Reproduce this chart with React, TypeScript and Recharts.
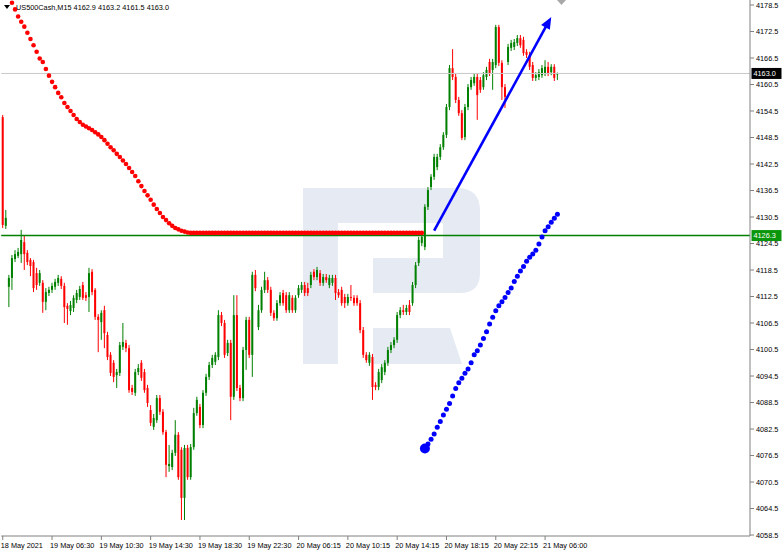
import React from 'react';
import { ComposedChart, Bar, Line, XAxis, YAxis, ReferenceLine } from 'recharts';

const opens = [
4153.1, 4128.5, 4114.7, 4116.7, 4121.0, 4121.7, 4122.1, 4124.8, 4122.4, 4120.8,
4120.3, 4117.8, 4115.6, 4115.6, 4111.3, 4113.3, 4114.0, 4114.7, 4115.6, 4116.5,
4114.9, 4110.4, 4109.2, 4109.9, 4111.7, 4112.4, 4115.1, 4112.8, 4112.4, 4118.1,
4114.0, 4107.9, 4106.7, 4109.4, 4103.8, 4099.3, 4097.5, 4094.7, 4095.2, 4101.1,
4102.0, 4100.8, 4091.8, 4090.7, 4095.4, 4097.5, 4095.4, 4091.8, 4086.8, 4083.0,
4084.5, 4089.5, 4086.4, 4081.8, 4074.1, 4073.9, 4077.1, 4081.2, 4077.8, 4066.9,
4078.2, 4071.6, 4078.4, 4086.1, 4087.5, 4083.4, 4090.7, 4094.3, 4097.0, 4097.7,
4098.8, 4108.3, 4106.5, 4099.7, 4102.0, 4089.8, 4108.3, 4091.8, 4089.5, 4100.4,
4107.2, 4099.3, 4117.4, 4105.6, 4109.4, 4114.0, 4116.2, 4114.0, 4108.8, 4107.6,
4111.0, 4113.3, 4112.8, 4109.4, 4112.2, 4109.4, 4112.8, 4114.0, 4115.1, 4114.4,
4115.1, 4118.1, 4116.9, 4117.8, 4115.6, 4116.9, 4115.1, 4115.6, 4116.7, 4113.5,
4114.0, 4112.4, 4111.0, 4112.4, 4112.2, 4112.2, 4111.0, 4104.9, 4099.3, 4097.5,
4098.8, 4092.5, 4092.0, 4093.6, 4095.4, 4097.5, 4100.4, 4101.5, 4102.7, 4108.3,
4109.4, 4109.0, 4110.6, 4111.0, 4115.1, 4120.1, 4124.6, 4123.7, 4132.8, 4137.3,
4139.6, 4141.8, 4144.1, 4146.3, 4149.1, 4155.4, 4164.2, 4162.2, 4157.0, 4154.0,
4148.6, 4155.4, 4159.9, 4160.8, 4162.2, 4161.5, 4159.9, 4162.2, 4165.6, 4163.8,
4164.9, 4173.5, 4165.4, 4159.9, 4165.6, 4168.8, 4169.0, 4169.9, 4171.0, 4170.6,
4167.9, 4167.2, 4164.9, 4162.0, 4162.2, 4162.6, 4163.1, 4164.5, 4163.3, 4164.5,
4162.9,
];

const highs = [
4153.6, 4132.1, 4117.4, 4121.9, 4123.0, 4123.5, 4127.6, 4126.2, 4123.0, 4121.2,
4120.8, 4119.0, 4118.5, 4116.2, 4114.4, 4114.7, 4115.6, 4116.5, 4117.4, 4117.1,
4115.6, 4111.0, 4111.5, 4112.8, 4114.0, 4114.9, 4115.8, 4113.5, 4119.0, 4118.7,
4114.4, 4108.5, 4109.4, 4110.4, 4104.5, 4099.9, 4098.1, 4096.1, 4102.2, 4106.5,
4102.7, 4101.5, 4092.5, 4096.1, 4097.2, 4098.1, 4096.1, 4092.5, 4087.9, 4085.9,
4090.2, 4090.2, 4087.0, 4082.3, 4078.9, 4077.8, 4084.5, 4081.8, 4078.4, 4078.9,
4078.9, 4079.1, 4087.3, 4089.8, 4088.2, 4091.3, 4095.0, 4097.7, 4099.3, 4099.9,
4109.4, 4109.0, 4107.2, 4102.7, 4102.7, 4112.8, 4112.8, 4092.5, 4101.1, 4107.9,
4107.9, 4118.1, 4118.5, 4110.6, 4114.7, 4118.1, 4116.9, 4114.7, 4109.4, 4111.7,
4113.5, 4114.0, 4113.5, 4113.5, 4112.8, 4112.8, 4115.1, 4115.8, 4115.8, 4115.6,
4118.1, 4118.7, 4119.2, 4118.5, 4117.6, 4117.6, 4117.4, 4117.4, 4117.4, 4114.2,
4114.7, 4113.1, 4113.1, 4115.1, 4112.8, 4112.8, 4111.7, 4105.6, 4099.9, 4099.9,
4099.5, 4093.1, 4096.1, 4097.2, 4098.1, 4101.1, 4102.2, 4103.3, 4109.0, 4110.1,
4110.6, 4110.6, 4111.7, 4115.8, 4120.3, 4126.0, 4126.7, 4133.4, 4137.3, 4140.2,
4144.8, 4144.8, 4147.0, 4149.7, 4156.1, 4164.9, 4168.5, 4162.9, 4157.7, 4154.7,
4156.1, 4160.6, 4162.2, 4162.9, 4162.9, 4162.2, 4163.3, 4164.5, 4166.3, 4166.3,
4174.0, 4174.0, 4166.0, 4160.6, 4169.7, 4170.6, 4170.8, 4171.7, 4171.7, 4171.3,
4168.5, 4167.9, 4165.6, 4163.3, 4164.0, 4164.9, 4166.0, 4165.6, 4165.1, 4165.1,
4163.2,
];

const lows = [
4128.0, 4127.8, 4110.1, 4114.0, 4120.3, 4121.2, 4120.1, 4118.5, 4119.6, 4117.1,
4113.5, 4114.0, 4114.9, 4108.8, 4109.4, 4112.6, 4113.3, 4114.0, 4114.9, 4114.2,
4106.5, 4106.1, 4108.3, 4109.0, 4111.0, 4111.7, 4111.7, 4111.5, 4109.0, 4112.8,
4107.2, 4099.9, 4102.7, 4100.8, 4098.1, 4094.5, 4093.1, 4091.8, 4094.5, 4100.4,
4099.9, 4090.7, 4090.2, 4090.0, 4094.7, 4093.4, 4090.7, 4087.5, 4083.2, 4082.3,
4083.9, 4085.7, 4081.2, 4071.6, 4072.8, 4073.2, 4076.4, 4071.0, 4061.9, 4061.9,
4071.0, 4071.0, 4077.8, 4085.5, 4082.7, 4082.7, 4090.0, 4093.6, 4096.3, 4097.0,
4098.1, 4105.8, 4098.6, 4099.0, 4084.5, 4089.1, 4091.1, 4088.8, 4088.8, 4095.9,
4098.6, 4094.3, 4113.7, 4104.9, 4108.8, 4113.3, 4113.3, 4108.1, 4107.0, 4107.0,
4110.4, 4110.4, 4108.8, 4108.8, 4108.8, 4108.8, 4112.2, 4113.3, 4112.6, 4112.6,
4114.4, 4116.2, 4116.2, 4114.9, 4114.9, 4115.6, 4114.4, 4114.9, 4111.7, 4112.2,
4110.4, 4109.9, 4110.4, 4111.5, 4110.4, 4110.4, 4104.2, 4098.6, 4097.5, 4096.8,
4089.1, 4091.3, 4091.3, 4092.9, 4094.7, 4096.8, 4099.7, 4100.8, 4102.0, 4107.6,
4108.3, 4108.3, 4108.3, 4110.4, 4114.4, 4119.4, 4123.9, 4123.0, 4132.1, 4136.6,
4138.9, 4141.1, 4143.4, 4145.7, 4148.4, 4154.7, 4161.5, 4156.3, 4153.4, 4147.9,
4147.9, 4154.7, 4159.3, 4160.2, 4152.5, 4158.6, 4159.3, 4161.5, 4162.4, 4159.3,
4164.2, 4164.7, 4157.0, 4155.2, 4164.9, 4168.1, 4168.3, 4169.2, 4168.8, 4167.0,
4166.5, 4163.8, 4161.3, 4161.3, 4161.5, 4162.0, 4162.4, 4162.4, 4162.6, 4161.3,
4161.5,
];

const closes = [
4128.7, 4130.3, 4116.7, 4121.2, 4122.1, 4122.6, 4125.3, 4122.1, 4120.3, 4119.4,
4114.4, 4115.1, 4117.8, 4111.3, 4113.5, 4114.0, 4114.9, 4115.8, 4116.7, 4114.9,
4110.1, 4109.7, 4110.6, 4112.2, 4113.3, 4114.2, 4112.2, 4112.2, 4117.8, 4113.5,
4107.9, 4107.2, 4108.8, 4104.2, 4098.8, 4095.2, 4094.3, 4095.4, 4101.5, 4102.2,
4100.8, 4091.3, 4090.9, 4095.4, 4096.3, 4094.1, 4091.3, 4088.4, 4083.9, 4085.0,
4089.5, 4086.4, 4081.8, 4074.4, 4074.6, 4077.1, 4081.2, 4071.6, 4066.9, 4078.2,
4071.6, 4078.4, 4086.1, 4089.1, 4083.4, 4090.7, 4094.3, 4097.0, 4098.6, 4099.3,
4108.3, 4106.5, 4099.3, 4102.0, 4089.8, 4108.3, 4091.8, 4089.5, 4100.4, 4107.2,
4099.3, 4117.4, 4114.4, 4109.4, 4114.0, 4116.2, 4114.0, 4108.8, 4107.6, 4111.0,
4112.8, 4111.0, 4109.4, 4112.8, 4109.4, 4112.2, 4114.4, 4115.1, 4113.3, 4113.3,
4117.4, 4116.9, 4118.5, 4115.6, 4116.9, 4116.2, 4116.7, 4116.7, 4113.3, 4112.8,
4111.0, 4111.0, 4112.4, 4112.2, 4111.0, 4111.0, 4104.9, 4099.3, 4098.1, 4099.3,
4092.0, 4092.0, 4095.4, 4096.5, 4097.5, 4100.4, 4101.5, 4102.7, 4108.3, 4109.4,
4109.0, 4109.9, 4109.0, 4115.1, 4119.6, 4125.3, 4126.0, 4132.8, 4136.6, 4139.6,
4144.1, 4144.1, 4146.3, 4149.1, 4155.4, 4164.2, 4162.2, 4157.0, 4154.0, 4148.4,
4155.4, 4159.9, 4161.5, 4162.2, 4158.1, 4159.3, 4162.6, 4163.8, 4163.1, 4165.6,
4173.5, 4165.4, 4159.9, 4157.7, 4169.0, 4169.9, 4170.1, 4171.0, 4169.4, 4167.6,
4167.2, 4164.5, 4162.0, 4162.6, 4163.3, 4164.2, 4164.5, 4163.1, 4164.5, 4162.0,
4163.0,
];

// red dotted indicator, first value at bar index 3, last at bar index 136
const redStart = 3;
const redDots = [
4179.0, 4177.5, 4175.9, 4174.7, 4173.6, 4172.2, 4170.8, 4169.4, 4167.9, 4166.4,
4165.6, 4164.0, 4162.5, 4161.1, 4159.9, 4158.6, 4157.6,
4156.3, 4155.4, 4154.5, 4153.6, 4152.7, 4152.0, 4151.4, 4151.0, 4150.6, 4150.2,
4149.7, 4149.2, 4148.6, 4147.9, 4147.1, 4146.3, 4145.6, 4144.8, 4144.1, 4143.3,
4142.5, 4141.6, 4140.7, 4139.8, 4138.6, 4137.5, 4136.4, 4135.4, 4134.4, 4133.3,
4132.3, 4131.4, 4130.5, 4129.8, 4129.1, 4128.5, 4128.0, 4127.7, 4127.4, 4127.2,
4127.0, 4126.9, 4126.9, 4126.9, 4126.9, 4126.9, 4126.9, 4126.9, 4126.9, 4126.9,
4126.9, 4126.9, 4126.9, 4126.9, 4126.9, 4126.9, 4126.9, 4126.9, 4126.9, 4126.9,
4126.9, 4126.9, 4126.9, 4126.9, 4126.9, 4126.9, 4126.9, 4126.9, 4126.9, 4126.9,
4126.9, 4126.9, 4126.9, 4126.9, 4126.9, 4126.9, 4126.9, 4126.9, 4126.9, 4126.9,
4126.9, 4126.9, 4126.9, 4126.9, 4126.9, 4126.9, 4126.9, 4126.9, 4126.9, 4126.9,
4126.9, 4126.9, 4126.9, 4126.9, 4126.9, 4126.9, 4126.9, 4126.9, 4126.9, 4126.9,
4126.9, 4126.9, 4126.9, 4126.9, 4126.9, 4126.9, 4126.9, 4126.9, 4126.9, 4126.9,
4126.9, 4126.9, 4126.9, 4126.9, 4126.9, 4126.9, 4126.9,
];

// blue dotted projection, first value at bar index 137
const blueStart = 137;
const blueDots = [
4078.1, 4079.1, 4080.2, 4081.4, 4082.9, 4084.2, 4085.7, 4087.0, 4088.3, 4090.0,
4091.7, 4093.0, 4094.0, 4095.1, 4096.1, 4097.5, 4099.3, 4100.2, 4101.5, 4103.0,
4104.5, 4106.3, 4107.8, 4109.3, 4110.4, 4111.3, 4112.3, 4113.4, 4114.4, 4115.9,
4117.1, 4118.3, 4119.3, 4120.5, 4121.4, 4122.1, 4123.0, 4124.4, 4126.0, 4127.4,
4128.3, 4129.3, 4130.2, 4131.1,
];

const xTickIndex = [0, 16, 32, 48, 64, 80, 96, 112, 128, 144, 160, 176];
const xTickLabels = [
  '18 May 2021', '19 May 06:30', '19 May 10:30', '19 May 14:30', '19 May 18:30', '19 May 22:30',
  '20 May 06:15', '20 May 10:15', '20 May 14:15', '20 May 18:15', '20 May 22:15', '21 May 06:00',
];
const yTicks = [
  4058.5, 4064.5, 4070.5, 4076.5, 4082.5, 4088.5, 4094.5, 4100.5, 4106.5, 4112.5, 4118.5,
  4124.5, 4130.5, 4136.5, 4142.5, 4148.5, 4154.5, 4160.5, 4166.5, 4172.5, 4178.5,
];
const yDomain = [4058.28, 4179.63];
const supportLevel = 4126.3;
const lastPrice = 4163.0;
const arrowFrom = { x: 140, y: 4127.4 };
const arrowTo = { x: 178, y: 4175.8 };
const titleText = 'US500Cash,M15  4162.9 4163.2 4161.5 4163.0';

const slotCount = 243;
const data = Array.from({ length: slotCount }, (_, i) => ({
  i,
  o: i < opens.length ? opens[i] : null,
  h: i < highs.length ? highs[i] : null,
  l: i < lows.length ? lows[i] : null,
  c: i < closes.length ? closes[i] : null,
  red: i >= redStart && i < redStart + redDots.length ? redDots[i - redStart] : null,
  blue: i >= blueStart && i < blueStart + blueDots.length ? blueDots[i - blueStart] : null,
}));

const FONT = '"Liberation Sans", Arial, sans-serif';
const GREEN = '#008000';
const RED = '#ff0000';
const AXIS = '#808080';

const Candle = (props: any) => {
  const { x, y, width, height, payload } = props;
  if (!payload || payload.o == null) return null;
  const { o, h, l, c } = payload;
  const range = h - l;
  const py = (v: number) => (range === 0 ? y : y + ((h - v) / range) * height);
  const cx = x + width / 2;
  const up = c >= o;
  const color = up ? GREEN : RED;
  const top = py(Math.max(o, c));
  const bot = py(Math.min(o, c));
  return (
    <g>
      <line x1={cx} x2={cx} y1={y} y2={y + height} stroke={color} strokeWidth={1} />
      <rect x={cx - 1} y={top} width={2} height={Math.max(bot - top, 1)} fill={color} />
    </g>
  );
};

const makeDot = (color: string, r: number, bigIndex: number) => (props: any) => {
  const { cx, cy, index, value } = props;
  if (value == null || cy == null || Number.isNaN(cy)) return <g key={`k${index}`} />;
  return <circle key={`k${index}`} cx={cx} cy={cy} r={index === bigIndex ? 5 : r} fill={color} />;
};
const redDot = makeDot(RED, 2.3, -1);
const blueDot = makeDot('#0000ff', 2.5, blueStart);

const YTick = (props: any) => {
  const { x, y, payload } = props;
  return (
    <text x={x} y={y} dy={2.6} fontSize={7.3} fontFamily={FONT} fill="#000" textAnchor="start">
      {Number(payload.value).toFixed(1)}
    </text>
  );
};

const XTick = (props: any) => {
  const { x, y, payload } = props;
  const k = xTickIndex.indexOf(payload.value);
  return (
    <text x={x - 2} y={y + 7.5} fontSize={7.3} fontFamily={FONT} fill="#000" textAnchor="start">
      {k >= 0 ? xTickLabels[k] : ''}
    </text>
  );
};

const priceBox = (text: string, bg: string) => (p: any) => {
  const vb = p.viewBox || {};
  const bx = vb.x + vb.width + 1.5;
  const by = vb.y;
  return (
    <g>
      <rect x={bx} y={by - 5.5} width={30} height={11} fill={bg} />
      <text x={bx + 2} y={by + 2.7} fontSize={7.3} fontFamily={FONT} fill="#fff">{text}</text>
    </g>
  );
};

const ArrowShape = (p: any) => {
  const { x1, y1, x2, y2 } = p;
  const dx = x2 - x1;
  const dy = y2 - y1;
  const len = Math.hypot(dx, dy) || 1;
  const ux = dx / len;
  const uy = dy / len;
  const hl = 12;
  const hw = 5;
  const bx = x2 - ux * hl;
  const by = y2 - uy * hl;
  return (
    <g>
      <line x1={x1} y1={y1} x2={bx + ux * 2} y2={by + uy * 2} stroke="#0000ff" strokeWidth={2.6} />
      <polygon
        points={`${x2},${y2} ${bx - uy * hw},${by + ux * hw} ${bx + uy * hw},${by - ux * hw}`}
        fill="#0000ff"
      />
    </g>
  );
};

const Watermark = () => (
  <svg width={782} height={553} style={{ position: 'absolute', left: 0, top: 0 }}>
    <g fill="#e6ebf3">
      <rect x={303} y={188} width={35} height={176} />
      <path d="M338,188 L457,188 Q480,188 480,211 L480,273 Q480,293 460,293 L373,293 L373,258 L443,258 L443,223 L338,223 Z" />
      <polygon points="373,328 450,328 462,364 373,364" />
    </g>
  </svg>
);

export default function App() {
  return (
    <div style={{ position: 'absolute', left: 0, top: 0, width: 782, height: 553, background: '#fff', overflow: 'hidden' }}>
      <Watermark />
      <div style={{ position: 'absolute', left: 0, top: 0 }}>
        <ComposedChart
          width={782}
          height={553}
          data={data}
          margin={{ top: 0, right: 0, bottom: 0, left: 1.2 }}
          barCategoryGap={0}
        >
          <XAxis
            dataKey="i"
            type="category"
            ticks={xTickIndex}
            interval={0}
            height={17}
            tickSize={4}
            tickMargin={0}
            tick={<XTick />}
            axisLine={{ stroke: AXIS }}
            tickLine={{ stroke: AXIS }}
          />
          <YAxis
            yAxisId="r"
            orientation="right"
            type="number"
            domain={yDomain}
            allowDataOverflow
            ticks={yTicks}
            interval={0}
            width={32}
            tickSize={4}
            tickMargin={2}
            tick={<YTick />}
            axisLine={{ stroke: AXIS }}
            tickLine={{ stroke: AXIS }}
          />
          <YAxis
            yAxisId="l"
            orientation="left"
            type="number"
            domain={yDomain}
            width={0}
            tick={false}
            tickLine={false}
            axisLine={{ stroke: AXIS }}
          />
          <ReferenceLine yAxisId="r" y={lastPrice} stroke="#c8c8c8" strokeWidth={1} label={priceBox('4163.0', '#000')} />
          <Bar
            yAxisId="r"
            dataKey={(d: any) => (d.o == null ? null : [d.l, d.h])}
            shape={<Candle />}
            isAnimationActive={false}
          />
          <Line
            yAxisId="r"
            dataKey="red"
            stroke="none"
            strokeWidth={0}
            dot={redDot}
            activeDot={false}
            isAnimationActive={false}
          />
          <ReferenceLine yAxisId="r" y={supportLevel} stroke={GREEN} strokeWidth={1.4} label={priceBox('4126.3', '#0a960a')} />
          <Line
            yAxisId="r"
            dataKey="blue"
            stroke="none"
            strokeWidth={0}
            dot={blueDot}
            activeDot={false}
            isAnimationActive={false}
          />
          <ReferenceLine
            yAxisId="r"
            segment={[arrowFrom, arrowTo]}
            shape={ArrowShape}
            ifOverflow="visible"
          />
        </ComposedChart>
      </div>
      <svg width={782} height={20} style={{ position: 'absolute', left: 0, top: 0 }}>
        <polygon points="4,5 10,5 7,9" fill="#000" />
        <polygon points="557,0 566,0 561.5,5" fill="#a8a8a8" />
        <text x={16} y={9.5} fontSize={7.3} fontFamily={FONT} fill="#000">{titleText}</text>
      </svg>
    </div>
  );
}
